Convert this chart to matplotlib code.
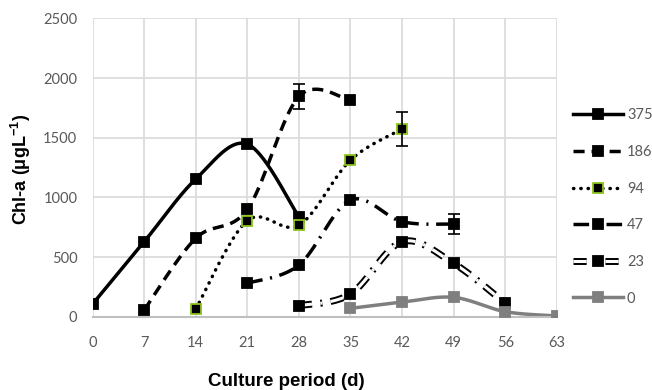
import numpy as np
import matplotlib
matplotlib.use("Agg")
import matplotlib.pyplot as plt
import matplotlib.patheffects as pe
from matplotlib.lines import Line2D

# Chl-a over the culture period for each dose
days_375 = [0, 7, 14, 21, 28]
chl_375 = [106, 628, 1153, 1446, 837]

days_186 = [7, 14, 21, 28, 35]
chl_186 = [56, 657, 899, 1845, 1812]

days_94 = [14, 21, 28, 35, 42]
chl_94 = [64, 804, 766, 1312, 1572]

days_47 = [21, 28, 35, 42, 49]
chl_47 = [280, 433, 977, 796, 776]

days_23 = [28, 35, 42, 49, 56]
chl_23 = [92, 190, 628, 447, 112]

days_0 = [35, 42, 49, 56, 63]
chl_0 = [70, 122, 162, 42, 6]

# error bars (day, value, +/-)
err_186 = (28, 1845, 105)
err_94 = (42, 1572, 145)
err_47 = (49, 776, 85)

labels = ["375", "186", "94", "47", "23", "0"]
xticks = [0, 7, 14, 21, 28, 35, 42, 49, 56, 63]
yticks = [0, 500, 1000, 1500, 2000, 2500]


def smooth(x, y, n=40):
    # Excel-style smoothed line (Catmull-Rom as cubic Bezier)
    p = np.column_stack([x, y]).astype(float)
    out = [p[0]]
    t = np.linspace(0, 1, n)[1:, None]
    for i in range(len(p) - 1):
        p0 = p[i - 1] if i > 0 else p[i]
        p1, p2 = p[i], p[i + 1]
        p3 = p[i + 2] if i + 2 < len(p) else p[i + 1]
        c1 = p1 + (p2 - p0) / 6
        c2 = p2 - (p3 - p1) / 6
        seg = ((1 - t) ** 3) * p1 + 3 * ((1 - t) ** 2) * t * c1 + 3 * (1 - t) * t ** 2 * c2 + t ** 3 * p2
        out.extend(seg)
    out = np.array(out)
    return out[:, 0], out[:, 1]


plt.rcParams["font.family"] = ["Lato", "DejaVu Sans"]
plt.rcParams["mathtext.fontset"] = "custom"
plt.rcParams["mathtext.rm"] = "Liberation Sans:bold"
plt.rcParams["mathtext.bf"] = "Liberation Sans:bold"
plt.rcParams["mathtext.default"] = "rm"

fig = plt.figure(figsize=(6.52, 3.9), dpi=100)
ax = fig.add_axes([0.142, 0.188, 0.712, 0.765])

green = "#8DC21F"
grey = "#7F7F7F"
lw = 2.5
compound = [pe.Stroke(linewidth=5.0, foreground="black"), pe.Stroke(linewidth=2.2, foreground="white")]

styles = [
    dict(ls="-", color="black", mfc="black", mec="black"),
    dict(ls=(0, (3.2, 2.0)), color="black", mfc="black", mec="black"),
    dict(ls=(0, (0.1, 2.0)), color="black", mfc="black", mec=green, dash_capstyle="round"),
    dict(ls=(0, (4.5, 2.2, 0.6, 2.2)), color="black", mfc="black", mec="black"),
    dict(ls=(0, (3.8, 2.4, 0.6, 2.4)), color="black", mfc="black", mec="black", pe=compound),
    dict(ls="-", color=grey, mfc=grey, mec=grey),
]
series = [(days_375, chl_375), (days_186, chl_186), (days_94, chl_94),
          (days_47, chl_47), (days_23, chl_23), (days_0, chl_0)]

handles = []
for (xd, yd), st, lab in zip(series, styles, labels):
    sx, sy = smooth(xd, yd)
    kw = {}
    if "dash_capstyle" in st:
        kw["dash_capstyle"] = st["dash_capstyle"]
    line, = ax.plot(sx, sy, ls=st["ls"], color=st["color"], lw=lw, zorder=2, **kw)
    if "pe" in st:
        line.set_path_effects(st["pe"])
    ax.plot(xd, yd, ls="none", marker="s", ms=7, mfc=st["mfc"], mec=st["mec"],
            mew=1.3, zorder=3)
    hl = Line2D([], [], ls=st["ls"], color=st["color"], lw=lw, **kw)
    if "pe" in st:
        hl.set_path_effects(st["pe"])
    hm = Line2D([], [], ls="none", marker="s", ms=7, mfc=st["mfc"], mec=st["mec"], mew=1.3)
    handles.append((hl, hm))

for d, v, e in [err_186, err_94, err_47]:
    ax.errorbar([d], [v], yerr=[e], fmt="none", ecolor="black", elinewidth=1.2,
                capsize=4, capthick=1.2, zorder=4)

ax.set_xlim(0, 63)
ax.set_ylim(0, 2500)
ax.set_xticks(xticks)
ax.set_yticks(yticks)
ax.grid(True, color="#D9D9D9", lw=1.2)
ax.set_axisbelow(True)
for s in ["top", "right", "left"]:
    ax.spines[s].set_visible(False)
ax.spines["bottom"].set_color("#BFBFBF")
ax.spines["bottom"].set_linewidth(1.5)
ax.tick_params(length=0, labelsize=10.5, labelcolor="#595959")
ax.tick_params(axis="x", pad=14)
ax.tick_params(axis="y", pad=11)

fig.text(286 / 652, 1 - 381 / 390, "Culture period (d)", ha="center", va="center",
         fontsize=13.5, fontweight="bold", family="Liberation Sans")
fig.text(21 / 652, 1 - 169 / 390, r"Chl-a (μgL$^{-1}$)", ha="center", va="center",
         rotation=90, fontsize=13, fontweight="bold", family="Liberation Sans")

leg = fig.legend(handles, labels, loc="center left", bbox_to_anchor=(573 / 652, 1 - 207 / 390),
                 frameon=False, borderpad=0, borderaxespad=0, handlelength=3.4,
                 handletextpad=0.3, labelspacing=1.55, fontsize=10.5)
for t in leg.get_texts():
    t.set_color("#595959")

fig.savefig("out.png", dpi=100)
